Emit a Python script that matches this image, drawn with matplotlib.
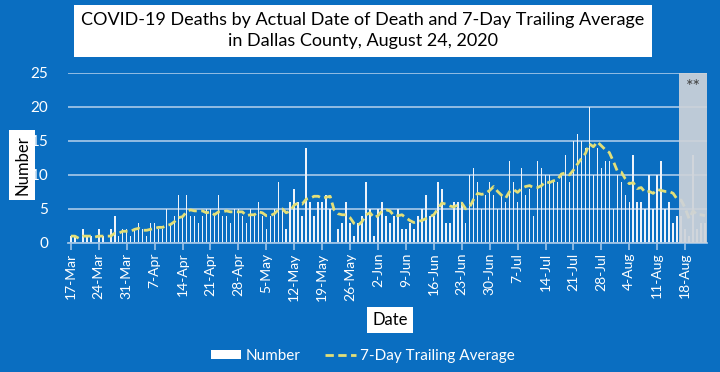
import pandas as pd
import matplotlib
matplotlib.use('Agg')
import matplotlib.pyplot as plt
from matplotlib.lines import Line2D
from matplotlib.patches import Patch

start_date = '2020-03-17'

# daily deaths, 17-Mar .. 23-Aug
deaths = [1, 1, 0, 2, 1, 1, 0, 2, 1, 0, 2, 4, 1, 2, 2, 1, 2, 3, 2, 1,
          3, 3, 2, 2, 5, 3, 4, 7, 4, 7, 4, 4, 3, 4, 5, 5, 4, 7, 4, 4,
          3, 5, 5, 4, 3, 5, 4, 6, 4, 2, 4, 5, 9, 5, 2, 6, 8, 6, 4, 14,
          6, 4, 6, 6, 7, 5, 0, 2, 3, 6, 3, 1, 3, 4, 9, 5, 1, 5, 6, 4,
          3, 4, 5, 2, 2, 3, 2, 4, 5, 7, 4, 4, 9, 8, 3, 3, 6, 6, 6, 3,
          10, 11, 9, 5, 7, 9, 7, 5, 7, 6, 12, 9, 6, 11, 7, 8, 4, 12, 11, 10,
          10, 9, 9, 10, 13, 9, 15, 16, 15, 14, 20, 10, 14, 11, 12, 12, 5, 10, 9, 7,
          6, 13, 6, 6, 5, 10, 5, 10, 12, 5, 6, 3, 4, 4, 2, 1, 13, 2, 3, 3]

# 7-day trailing average as drawn
avg7 = [1.00, 1.00, 0.67, 1.00, 1.00, 1.00, 0.86, 1.00, 1.00, 1.00,
        1.00, 1.43, 1.43, 1.71, 1.71, 1.71, 2.00, 2.14, 1.86, 1.86,
        2.00, 2.14, 2.29, 2.29, 2.57, 2.71, 3.14, 3.71, 3.86, 4.57,
        4.86, 4.71, 4.71, 4.71, 4.43, 4.57, 4.14, 4.57, 4.57, 4.71,
        4.57, 4.57, 4.57, 4.57, 4.00, 4.14, 4.14, 4.57, 4.43, 4.00,
        4.00, 4.29, 4.86, 5.00, 4.43, 4.71, 5.57, 5.86, 5.71, 6.43,
        6.57, 6.86, 6.86, 6.57, 6.71, 6.86, 4.86, 4.29, 4.14, 4.14,
        3.71, 2.86, 2.57, 3.14, 4.14, 4.43, 3.71, 4.00, 4.71, 4.86,
        4.71, 4.00, 4.00, 4.14, 3.71, 3.29, 3.00, 3.14, 3.29, 3.57,
        3.86, 4.14, 5.00, 5.86, 5.71, 5.43, 5.29, 5.57, 5.86, 5.00,
        5.29, 6.43, 7.29, 7.14, 7.29, 7.71, 8.29, 7.57, 7.00, 6.57,
        7.57, 7.86, 7.43, 8.00, 8.29, 8.43, 8.14, 8.14, 8.43, 9.00,
        8.86, 9.14, 9.29, 10.14, 10.29, 10.00, 10.71, 11.57, 12.43, 13.14,
        14.57, 14.14, 14.86, 14.29, 13.71, 13.29, 12.00, 10.57, 10.43, 9.43,
        8.71, 8.86, 8.00, 8.14, 7.43, 7.57, 7.29, 7.86, 7.71, 7.57,
        7.57, 7.29, 6.43, 6.29, 5.14, 3.57, 4.71, 4.14, 4.14, 4.00]

tick_labels = ['17-Mar', '24-Mar', '31-Mar', '7-Apr', '14-Apr', '21-Apr', '28-Apr',
               '5-May', '12-May', '19-May', '26-May', '2-Jun', '9-Jun', '16-Jun',
               '23-Jun', '30-Jun', '7-Jul', '14-Jul', '21-Jul', '28-Jul', '4-Aug',
               '11-Aug', '18-Aug']
y_ticks = [0, 5, 10, 15, 20, 25]

# last week still incomplete (grey box)
pending_start = '2020-08-17'

bg = '#0A6EC1'
grid_c = '#9DC3E6'
avg_c = '#E3DF78'

plt.rcParams['font.family'] = ['Lato', 'DejaVu Sans']

dates = pd.date_range(start_date, periods=len(deaths))
x = list(range(len(deaths)))
pend_idx = list(dates).index(pd.Timestamp(pending_start))

fig = plt.figure(figsize=(7.2, 3.72), dpi=100)
fig.patch.set_facecolor(bg)
ax = fig.add_axes([0.094, 0.347, 0.888, 0.457])
ax.set_facecolor(bg)

ax.bar(x, deaths, width=0.38, color='#EEF3FA', zorder=2)
ax.plot(x, avg7, color=avg_c, linestyle=(0, (3, 1.6)), linewidth=2, zorder=3)

ax.axvspan(pend_idx - 0.5, len(deaths) - 0.5, color='#CED3D9', alpha=0.92, zorder=4, lw=0)
ax.text((pend_idx + len(deaths) - 1) / 2, 23, '**', ha='center', va='center',
        fontsize=13, color='#404040', zorder=5)

ax.set_ylim(0, 25)
ax.set_xlim(-0.8, len(deaths) - 0.5)
ax.set_yticks(y_ticks)
ax.set_xticks(range(0, len(deaths), 7)[:len(tick_labels)])
ax.set_xticklabels(tick_labels, rotation=90)
ax.grid(axis='y', color=grid_c, linewidth=1.3, zorder=1)
ax.set_axisbelow(True)

for s in ['top', 'right', 'left']:
    ax.spines[s].set_visible(False)
ax.spines['bottom'].set_color(grid_c)
ax.spines['bottom'].set_linewidth(1.3)
ax.tick_params(axis='y', colors='white', length=0, labelsize=11, pad=14)
ax.tick_params(axis='x', colors=grid_c, labelcolor='white', length=5, width=1.2,
               labelsize=10, pad=2)

fig.text(0.504, 0.917, 'COVID-19 Deaths by Actual Date of Death and 7-Day Trailing Average\n'
         'in Dallas County, August 24, 2020', ha='center', va='center', fontsize=13,
         color='black', linespacing=1.4,
         bbox=dict(boxstyle='square,pad=0.4', facecolor='white', edgecolor='none'))
fig.text(0.031, 0.556, 'Number', rotation=90, ha='center', va='center', fontsize=12,
         color='black', bbox=dict(boxstyle='square,pad=0.3', facecolor='white', edgecolor='none'))
fig.text(0.542, 0.14, 'Date', ha='center', va='center', fontsize=12,
         color='black', bbox=dict(boxstyle='square,pad=0.3', facecolor='white', edgecolor='none'))

handles = [Patch(facecolor='white', edgecolor='none'),
           Line2D([0], [0], color=avg_c, linestyle=(0, (3, 1.6)), linewidth=2)]
fig.legend(handles, ['Number', '7-Day Trailing Average'], loc='center', ncol=2,
           bbox_to_anchor=(0.504, 0.043), frameon=False, fontsize=11, labelcolor='white',
           handlelength=2.0, handleheight=0.6, columnspacing=1.6, handletextpad=0.3)

fig.savefig('out.png', dpi=100, facecolor=bg)
